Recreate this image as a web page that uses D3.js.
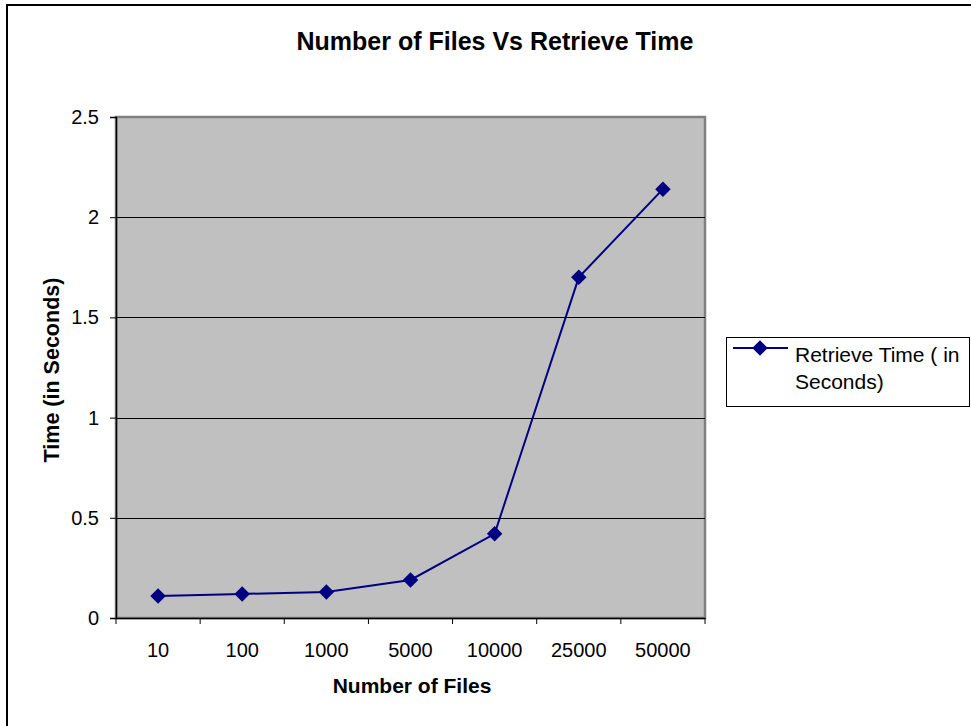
<!DOCTYPE html>
<html><head><meta charset="utf-8">
<script src="https://cdn.jsdelivr.net/npm/d3@7"></script>
<style>body{margin:0;background:#fff}svg{display:block}text{font-family:Arial,"Liberation Sans",sans-serif}</style>
</head><body>
<script>
const categories = ["10","100","1000","5000","10000","25000","50000"];
const retrieveTime = [0.11, 0.12, 0.13, 0.19, 0.42, 1.70, 2.14];
const yTicks = [0, 0.5, 1, 1.5, 2, 2.5];
const seriesName = "Retrieve Time ( in Seconds)";

const W = 971, H = 726;
const FONT = "Arial, 'Liberation Sans', sans-serif";
const svg = d3.select("body").append("svg").attr("width", W).attr("height", H);
svg.append("rect").attr("x",7).attr("y",5).attr("width",W+10).attr("height",H+10)
  .attr("fill","#fff").attr("stroke","#000").attr("stroke-width",2);

const m = {l:116, t:117, r:705, b:618};
const x = d3.scaleBand().domain(categories).range([m.l, m.r]).padding(0);
const y = d3.scaleLinear().domain([0, 2.5]).range([m.b, m.t]);

svg.append("rect").attr("x",m.l).attr("y",m.t).attr("width",m.r-m.l).attr("height",m.b-m.t)
  .attr("fill","#c0c0c0").attr("stroke","#808080").attr("stroke-width",2.5);

// gridlines
svg.append("g").selectAll("line").data(yTicks.filter(d=>d>0 && d<2.5)).join("line")
  .attr("x1",m.l).attr("x2",m.r).attr("y1",d=>Math.round(y(d))+0.5).attr("y2",d=>Math.round(y(d))+0.5)
  .attr("stroke","#000").attr("stroke-width",1);

// y axis
const ya = svg.append("g").attr("transform",`translate(${m.l},0)`)
  .call(d3.axisLeft(y).tickValues(yTicks).tickSize(6).tickPadding(11).tickFormat(d3.format("")));
ya.select(".domain").attr("stroke","#000").attr("stroke-width",1.5);
ya.selectAll("line").attr("stroke","#000");
ya.selectAll("text").attr("font-size",20).attr("fill","#000").attr("font-family",FONT);

// x axis
const xa = svg.append("g").attr("transform",`translate(0,${m.b})`)
  .call(d3.axisBottom(x).tickSize(0).tickPadding(25));
xa.select(".domain").attr("stroke","#000").attr("stroke-width",1.5);
xa.selectAll("text").attr("font-size",20).attr("fill","#000").attr("font-family",FONT);
// boundary ticks
const bounds = categories.map(c=>x(c)).concat([x(categories[categories.length-1])+x.bandwidth()]);
svg.append("g").selectAll("line").data(bounds).join("line")
  .attr("x1",d=>d).attr("x2",d=>d).attr("y1",m.b).attr("y2",m.b+6).attr("stroke","#000");

// line
const line = d3.line().x((d,i)=>x(categories[i])+x.bandwidth()/2).y(d=>y(d));
svg.append("path").datum(retrieveTime).attr("d",line).attr("fill","none")
  .attr("stroke","#000080").attr("stroke-width",2);
svg.append("g").selectAll("path").data(retrieveTime).join("path")
  .attr("transform",(d,i)=>`translate(${x(categories[i])+x.bandwidth()/2},${y(d)}) rotate(45)`)
  .attr("d", d3.symbol().type(d3.symbolSquare).size(120))
  .attr("fill","#000080");

// titles
svg.append("text").attr("x",495).attr("y",50).attr("text-anchor","middle")
  .attr("font-size",25).attr("font-weight","bold").text("Number of Files Vs Retrieve Time");
svg.append("text").attr("x",412).attr("y",693).attr("text-anchor","middle")
  .attr("font-size",21).attr("font-weight","bold").text("Number of Files");
svg.append("text").attr("transform",`translate(59,370) rotate(-90)`).attr("text-anchor","middle")
  .attr("font-size",21.5).attr("font-weight","bold").text("Time (in Seconds)");

// legend
const lg = svg.append("g");
lg.append("rect").attr("x",726.5).attr("y",337.5).attr("width",243).attr("height",69)
  .attr("fill","#fff").attr("stroke","#000").attr("stroke-width",1);
lg.append("line").attr("x1",733).attr("x2",788).attr("y1",348).attr("y2",348)
  .attr("stroke","#000080").attr("stroke-width",2);
lg.append("path").attr("transform","translate(760,348) rotate(45)")
  .attr("d", d3.symbol().type(d3.symbolSquare).size(120)).attr("fill","#000080");
const words = seriesName.split(" ");
const lt = lg.append("text").attr("x",795).attr("y",362).attr("font-size",21).attr("fill","#000");
lt.append("tspan").attr("x",795).attr("dy",0).text(words.slice(0,4).join(" "));
lt.append("tspan").attr("x",795).attr("dy",27).text(words.slice(4).join(" "));
</script>
</body></html>
